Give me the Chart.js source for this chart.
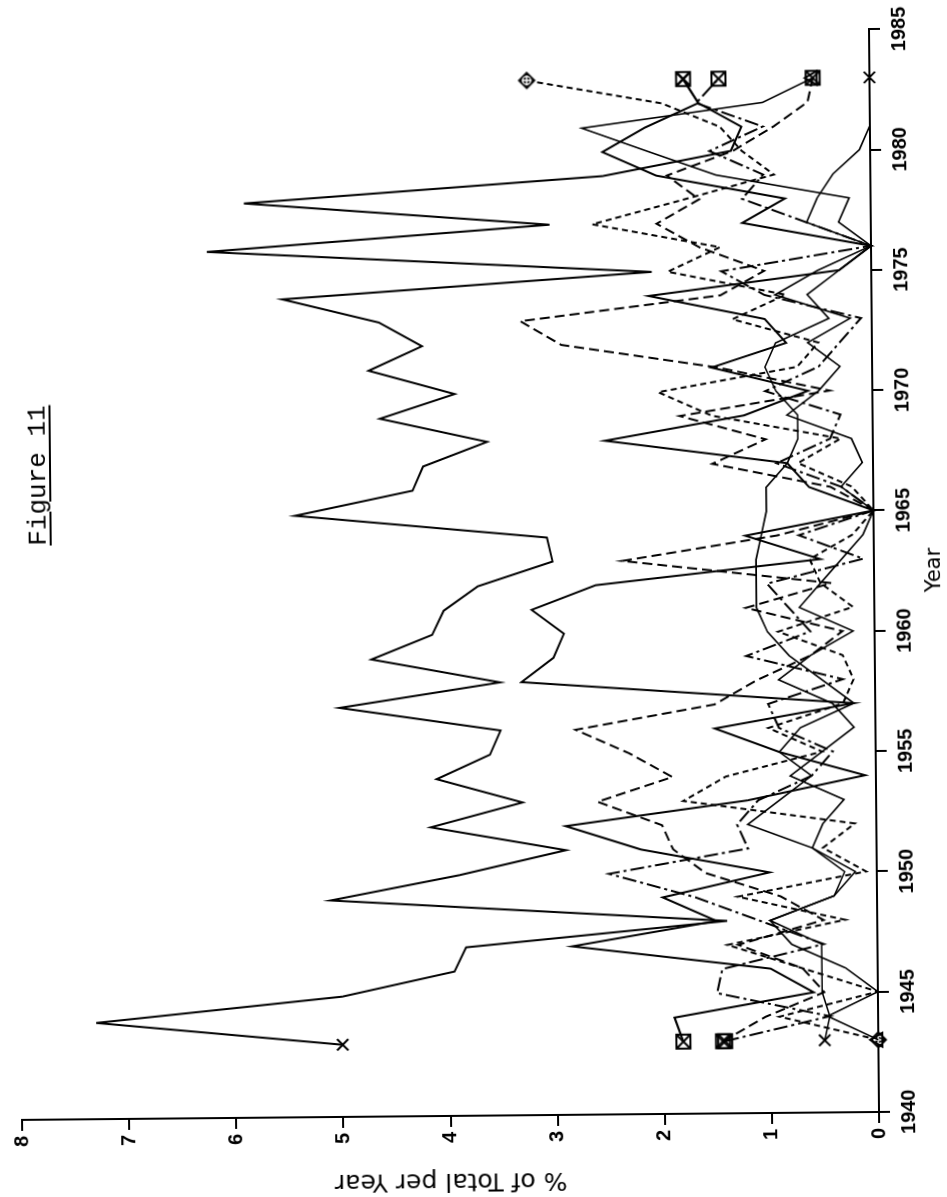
<!DOCTYPE html>
<html>
<head>
<meta charset="utf-8">
<script src="https://cdn.jsdelivr.net/npm/chart.js@4.4.0/dist/chart.umd.min.js"></script>
<style>
  html, body { margin: 0; padding: 0; background: #fff; width: 947px; height: 1197px; overflow: hidden; }
  /* the printed sheet sits slightly askew */
  #page { position: absolute; left: 0; top: 0; width: 947px; height: 1197px;
          transform-origin: 874px 570px; transform: rotate(-0.53deg); }
  /* landscape figure turned onto a portrait page */
  #sheet { position: absolute; left: 0; top: 0; width: 1197px; height: 947px;
           transform-origin: 0 0; transform: translateY(1197px) rotate(-90deg); background: #fff; }
  #sheet canvas { position: absolute; left: 0; top: 0; }
  #fig { position: absolute; left: 659px; top: 26px; font-family: "Liberation Mono", monospace;
         font-size: 26px; line-height: 26px; color: #000; text-decoration: underline;
         text-decoration-thickness: 2px; text-underline-offset: 4px; white-space: nowrap; }
</style>
</head>
<body>
<div id="page">
  <div id="sheet">
    <canvas id="chart" width="1197" height="947"></canvas>
    <div id="fig">Figure 11</div>
  </div>
</div>
<script>
// Years covered by every series
const years = [1943,1944,1945,1946,1947,1948,1949,1950,1951,1952,1953,1954,1955,1956,1957,1958,1959,1960,1961,1962,
               1963,1964,1965,1966,1967,1968,1969,1970,1971,1972,1973,1974,1975,1976,1977,1978,1979,1980,1981,1982,1983];

// % of total per year, one array per series
const seriesA = [5.0,7.3,5.0,3.95,3.84,1.4,5.1,3.9,2.9,4.16,3.3,4.1,3.6,3.5,5.0,3.5,4.7,4.13,4.02,3.7,
                 3.0,3.05,5.4,4.3,4.2,3.6,4.6,3.9,4.7,4.2,4.6,5.5,2.05,6.2,3.0,5.85,2.5,1.3,1.2,1.6,1.74];
const seriesB = [0.5,0.45,0.52,0.52,0.52,1.0,0.4,0.3,0.6,1.2,0.9,0.6,0.9,0.7,0.2,0.5,0.8,1.0,1.1,1.1,
                 1.1,1.05,1.0,1.0,0.8,0.7,0.7,0.9,1.0,0.9,0.4,0.6,0.3,0,0.6,0.5,0.35,0.1,0,0,0];
const seriesC = [1.82,1.9,0.6,1.0,2.85,1.5,2.0,1.0,2.2,2.9,1.2,0.1,0.9,1.5,0.2,3.3,3.0,2.9,3.2,2.6,
                 0.5,1.2,0,0.6,0.8,2.5,1.2,0.6,1.5,0.8,1.0,2.08,0.3,0,1.2,0.8,2.0,2.5,2.1,1.6,1.74];
const seriesD = [1.43,0.45,1.5,1.45,0.5,1.1,1.7,2.5,1.2,1.3,1.1,0.6,0.4,0.9,1.0,0.3,1.2,0.6,0.8,1.0,
                 0.1,0.7,0,0.3,0.9,0.4,0.3,1.0,0.5,0.3,0.1,1.0,1.4,0,0.6,1.2,1.0,1.5,1.0,1.62,1.41];
const seriesE = [1.45,1.05,0.5,0.7,1.3,0.5,0.9,1.6,1.9,2.0,2.6,1.9,2.3,2.8,1.5,1.1,0.6,0.3,1.2,0.4,
                 2.35,0.9,0,0.4,1.5,1.0,1.8,0.4,1.44,2.9,3.28,1.41,1.0,1.6,2.0,1.6,1.9,1.28,0.9,0.58,0.53];
const seriesF = [0,0.47,0,0.3,0.8,1.0,0.4,0.2,0.6,0.5,0.3,0.8,0.5,0.2,0.4,0.9,0.6,0.2,0.7,0.5,
                 0.3,0.1,0,0.3,0.1,0.2,0.8,0.5,0.3,0.6,0.2,0.9,0.5,0,0.3,0.2,1.44,2.07,2.69,1.0,0.53];
const seriesG = [0,0.92,0,0.7,1.4,0.3,1.3,0.1,0.5,0.2,1.8,1.4,0.5,1.0,0.3,0.2,0.3,0.9,0.2,0.5,
                 0.6,0.2,0,0.2,0.7,0.3,1.5,2.0,0.7,0.5,1.3,0.8,1.9,1.41,2.6,1.74,0.9,1.2,1.4,1.94,3.2];

// Axis tick values
const yearTicks = [1940,1945,1950,1955,1960,1965,1970,1975,1980,1985];
const percentTicks = [0,1,2,3,4,5,6,7,8];

// --- end-point symbols -------------------------------------------------
function symbol(size, paint) {
  const c = document.createElement('canvas');
  c.width = size; c.height = size;
  const g = c.getContext('2d');
  g.strokeStyle = '#000'; g.fillStyle = '#000'; g.lineWidth = 2;
  paint(g, size);
  return c;
}
const crossedSquare = symbol(18, (g, s) => {
  g.strokeRect(2, 2, s - 4, s - 4);
  g.beginPath(); g.moveTo(3, 3); g.lineTo(s - 3, s - 3); g.moveTo(s - 3, 3); g.lineTo(3, s - 3); g.stroke();
});
const diamondCross = symbol(20, (g, s) => {
  const m = s / 2;
  g.beginPath(); g.moveTo(m, 1); g.lineTo(s - 1, m); g.lineTo(m, s - 1); g.lineTo(1, m); g.closePath(); g.fill();
  g.strokeStyle = '#fff'; g.lineWidth = 1.5;
  g.beginPath(); g.arc(m, m, 4, 0, Math.PI * 2); g.moveTo(m - 5, m); g.lineTo(m + 5, m); g.moveTo(m, m - 5); g.lineTo(m, m + 5); g.stroke();
});

function ends(r) { return years.map((_, i) => (i === 0 || i === years.length - 1) ? r : 0); }
function pts(values) { return years.map((y, i) => ({ x: y, y: values[i] })); }

function series(label, values, dash, style, width) {
  return {
    label, data: pts(values),
    borderColor: '#000', backgroundColor: '#000', borderWidth: width || 2,
    borderDash: dash, tension: 0, fill: false, clip: false,
    pointStyle: style, pointRadius: ends(8),
    pointBorderColor: '#000', pointBorderWidth: 2, pointBackgroundColor: 'rgba(0,0,0,0)'
  };
}

const datasets = [
  series('A', seriesA, [], 'crossRot'),
  series('B', seriesB, [], 'crossRot', 1.6),
  series('C', seriesC, [], crossedSquare),
  series('D', seriesD, [14, 4, 3, 4], crossedSquare),
  series('E', seriesE, [10, 5], crossedSquare),
  series('F', seriesF, [], 'triangle', 1.6),
  series('G', seriesG, [6, 4], diamondCross)
];

const tickFont = { family: 'Liberation Sans', weight: 'bold', size: 20 };
const plain = v => String(v);

new Chart(document.getElementById('chart'), {
  type: 'line',
  data: { datasets },
  options: {
    responsive: false, animation: false, devicePixelRatio: 1,
    layout: { padding: { top: 11, right: 29, left: 0, bottom: 0 } },
    plugins: { legend: { display: false }, tooltip: { enabled: false }, title: { display: false } },
    scales: {
      x: {
        type: 'linear', min: yearTicks[0], max: yearTicks[yearTicks.length - 1],
        afterBuildTicks: s => { s.ticks = yearTicks.map(v => ({ value: v })); },
        afterFit: s => { s.height = 73; },
        ticks: { color: '#000', font: tickFont, padding: 7, maxRotation: 0, autoSkip: false, callback: plain },
        grid: { drawOnChartArea: false, drawTicks: true, tickLength: 11, color: '#000', lineWidth: 2 },
        border: { display: true, color: '#000', width: 2 },
        title: { display: true, text: 'Year', color: '#000',
                 font: { family: 'DejaVu Sans', size: 21 }, padding: { top: 0, bottom: 0 } }
      },
      y: {
        type: 'linear', min: percentTicks[0], max: percentTicks[percentTicks.length - 1],
        afterBuildTicks: s => { s.ticks = percentTicks.map(v => ({ value: v })); },
        afterFit: s => { s.width = 85; },
        ticks: { color: '#000', font: tickFont, padding: 5, autoSkip: false, callback: plain },
        grid: { drawOnChartArea: false, drawTicks: true, tickLength: 11, color: '#000', lineWidth: 2 },
        border: { display: true, color: '#000', width: 2 },
        title: { display: true, text: '% of Total per Year', color: '#000',
                 font: { family: 'DejaVu Sans', size: 25 }, padding: { top: 5, bottom: 0 } }
      }
    }
  }
});
</script>
</body>
</html>
